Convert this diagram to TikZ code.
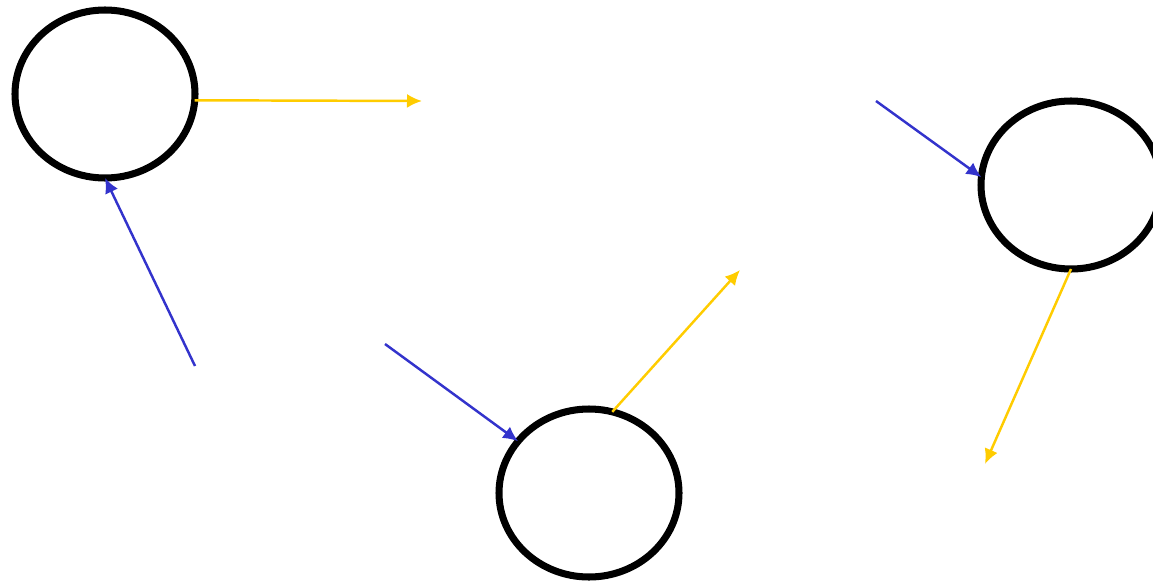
\documentclass[tikz,border=0pt]{standalone}
\usepackage{xcolor}
\usetikzlibrary{arrows.meta}
\usetikzlibrary{shapes.geometric}

\definecolor{sunyellow}{HTML}{FFCC00}
\definecolor{inblue}{HTML}{3333CC}

\begin{document}
\begin{tikzpicture}[scale=1,
  body/.style={draw,ellipse,line width=4pt,minimum width=3.6cm,minimum height=3.36cm,inner sep=0pt,outer sep=0pt},
  outflow/.style={sunyellow,line width=1.4pt,-{Latex[length=3mm,width=2.8mm]}},
  inflow/.style={inblue,line width=1.4pt,-{Latex[length=3mm,width=2.8mm]}}]
\useasboundingbox (0,0) rectangle (23.06,11.62);

\node[body] (left) at (2.10,9.74) {};
\node[body] (right) at (21.42,7.92) {};
\node[body] (bottom) at (11.78,1.76) {};

\coordinate (leftout) at (8.44,9.60);
\coordinate (leftin) at (3.90,4.30);
\coordinate (bottomin) at (7.70,4.74);
\coordinate (bottomout) at (14.80,6.22);
\coordinate (rightin) at (17.52,9.60);
\coordinate (rightout) at (19.70,2.34);

\draw[outflow] (left.-4.4) -- (leftout);
\draw[inflow] (leftin) -- (left.south);

\draw[inflow] (bottomin) -- (bottom);
\draw[outflow] (bottom.74) -- (bottomout);

\draw[inflow] (rightin) -- (right.175);
\draw[outflow] (right.south) -- (rightout);

\end{tikzpicture}
\end{document}
